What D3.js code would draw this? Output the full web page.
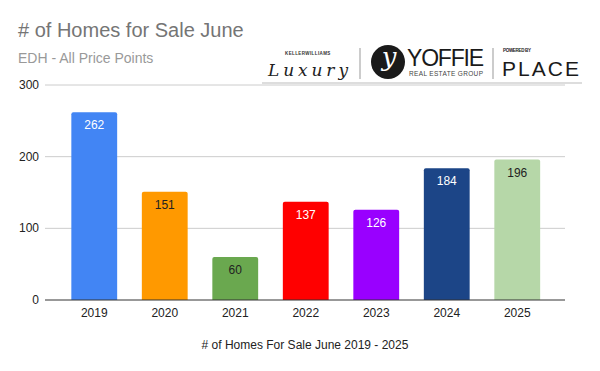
<!DOCTYPE html>
<html>
<head>
<meta charset="utf-8">
<script src="https://cdn.jsdelivr.net/npm/d3@7"></script>
<style>
  body { margin: 0; background: #fff; }
  svg { font-family: "Liberation Sans", Arial, sans-serif; display: block; }
</style>
</head>
<body>
<div id="chart"></div>
<script>
// data
const years = ['2019', '2020', '2021', '2022', '2023', '2024', '2025']
const homes = [262, 151, 60, 137, 126, 184, 196]
const barColors = ['#4285f4', '#ff9900', '#6aa84f', '#ff0000', '#9900ff', '#1c4587', '#b6d7a8']
const labelColors = ['#fff', '#222', '#222', '#fff', '#fff', '#fff', '#222']
const yTicks = [0, 100, 200, 300]

const width = 600,
  height = 371

const svg = d3.select('#chart')
  .append('svg')
  .attr('width', width)
  .attr('height', height)

// titles
svg.append('text')
  .attr('x', 18).attr('y', 37)
  .attr('font-size', 20)
  .attr('fill', '#757575')
  .text('# of Homes for Sale June')

svg.append('text')
  .attr('x', 18).attr('y', 63)
  .attr('font-size', 14)
  .attr('fill', '#999')
  .text('EDH - All Price Points')

// scales
const x = d3.scaleBand()
  .domain(years)
  .range([59, 552.5])
  .paddingInner(0.35)
  .paddingOuter(0.175)

const y = d3.scaleLinear()
  .domain([0, 300])
  .range([300, 85])

// gridlines
svg.append('g')
  .selectAll('line')
  .data(yTicks.slice(1))
  .enter()
  .append('line')
  .attr('x1', 45).attr('x2', 565)
  .attr('y1', d => y(d)).attr('y2', d => y(d))
  .attr('stroke', '#ccc')

// y labels
svg.append('g')
  .selectAll('text')
  .data(yTicks)
  .enter()
  .append('text')
  .attr('x', 39)
  .attr('y', d => y(d) + 4)
  .attr('text-anchor', 'end')
  .attr('font-size', 12)
  .attr('fill', '#222')
  .text(d => d)

// logo block (drawn as text/shapes)
const logo = svg.append('g')
logo.append('text')
  .attr('x', 285).attr('y', 55)
  .attr('font-size', 4.5).attr('font-weight', 'bold')
  .attr('letter-spacing', 0.4)
  .attr('fill', '#333')
  .text('KELLERWILLIAMS')
logo.append('text')
  .attr('x', 268).attr('y', 76)
  .attr('font-family', '"DejaVu Serif", serif')
  .attr('font-style', 'italic')
  .attr('font-size', 17)
  .attr('textLength', 80)
  .attr('fill', '#222')
  .text('Luxury')
logo.append('line')
  .attr('x1', 360).attr('x2', 360).attr('y1', 48).attr('y2', 79)
  .attr('stroke', '#999')
logo.append('circle')
  .attr('cx', 388).attr('cy', 62).attr('r', 17)
  .attr('fill', '#1a1a1a')
logo.append('text')
  .attr('x', 389).attr('y', 66)
  .attr('text-anchor', 'middle')
  .attr('font-family', '"DejaVu Serif", serif')
  .attr('font-style', 'italic')
  .attr('font-size', 26)
  .attr('fill', '#fff')
  .text('y')
logo.append('text')
  .attr('x', 407).attr('y', 66)
  .attr('font-size', 23)
  .attr('textLength', 77)
  .attr('fill', '#1a1a1a')
  .text('YOFFIE')
logo.append('text')
  .attr('x', 409).attr('y', 76)
  .attr('font-size', 6.5)
  .attr('textLength', 74)
  .attr('fill', '#444')
  .text('REAL ESTATE GROUP')
logo.append('line')
  .attr('x1', 493).attr('x2', 493).attr('y1', 48).attr('y2', 79)
  .attr('stroke', '#999')
logo.append('text')
  .attr('x', 503).attr('y', 52)
  .attr('font-size', 4.5).attr('font-weight', 'bold')
  .attr('textLength', 28)
  .attr('fill', '#222')
  .text('POWERED BY')
logo.append('text')
  .attr('x', 502).attr('y', 76)
  .attr('font-size', 21)
  .attr('textLength', 77)
  .attr('fill', '#1a1a1a')
  .text('PLACE')
logo.append('line')
  .attr('x1', 262).attr('x2', 582).attr('y1', 83).attr('y2', 83)
  .attr('stroke', '#bbb')

// bars
const r = 2
svg.append('g')
  .selectAll('path')
  .data(homes)
  .enter()
  .append('path')
  .attr('fill', (d, i) => barColors[i])
  .attr('d', (d, i) => {
    const x0 = x(years[i]), x1 = x0 + x.bandwidth()
    const top = y(d), bot = y(0)
    return `M${x0},${bot}V${top + r}Q${x0},${top} ${x0 + r},${top}H${x1 - r}Q${x1},${top} ${x1},${top + r}V${bot}Z`
  })

// bar value labels
svg.append('g')
  .selectAll('text')
  .data(homes)
  .enter()
  .append('text')
  .attr('x', (d, i) => x(years[i]) + x.bandwidth() / 2)
  .attr('y', d => y(d) + 17)
  .attr('text-anchor', 'middle')
  .attr('font-size', 12)
  .attr('fill', (d, i) => labelColors[i])
  .text(d => d)

// x axis baseline
svg.append('line')
  .attr('x1', 45).attr('x2', 565)
  .attr('y1', y(0)).attr('y2', y(0))
  .attr('stroke', '#333')

svg.append('g')
  .selectAll('text')
  .data(years)
  .enter()
  .append('text')
  .attr('x', d => x(d) + x.bandwidth() / 2)
  .attr('y', 317)
  .attr('text-anchor', 'middle')
  .attr('font-size', 12)
  .attr('fill', '#222')
  .text(d => d)

// axis title
svg.append('text')
  .attr('x', 305).attr('y', 349)
  .attr('text-anchor', 'middle')
  .attr('font-size', 12)
  .attr('fill', '#222')
  .text('# of Homes For Sale June 2019 - 2025')
</script>
</body>
</html>
